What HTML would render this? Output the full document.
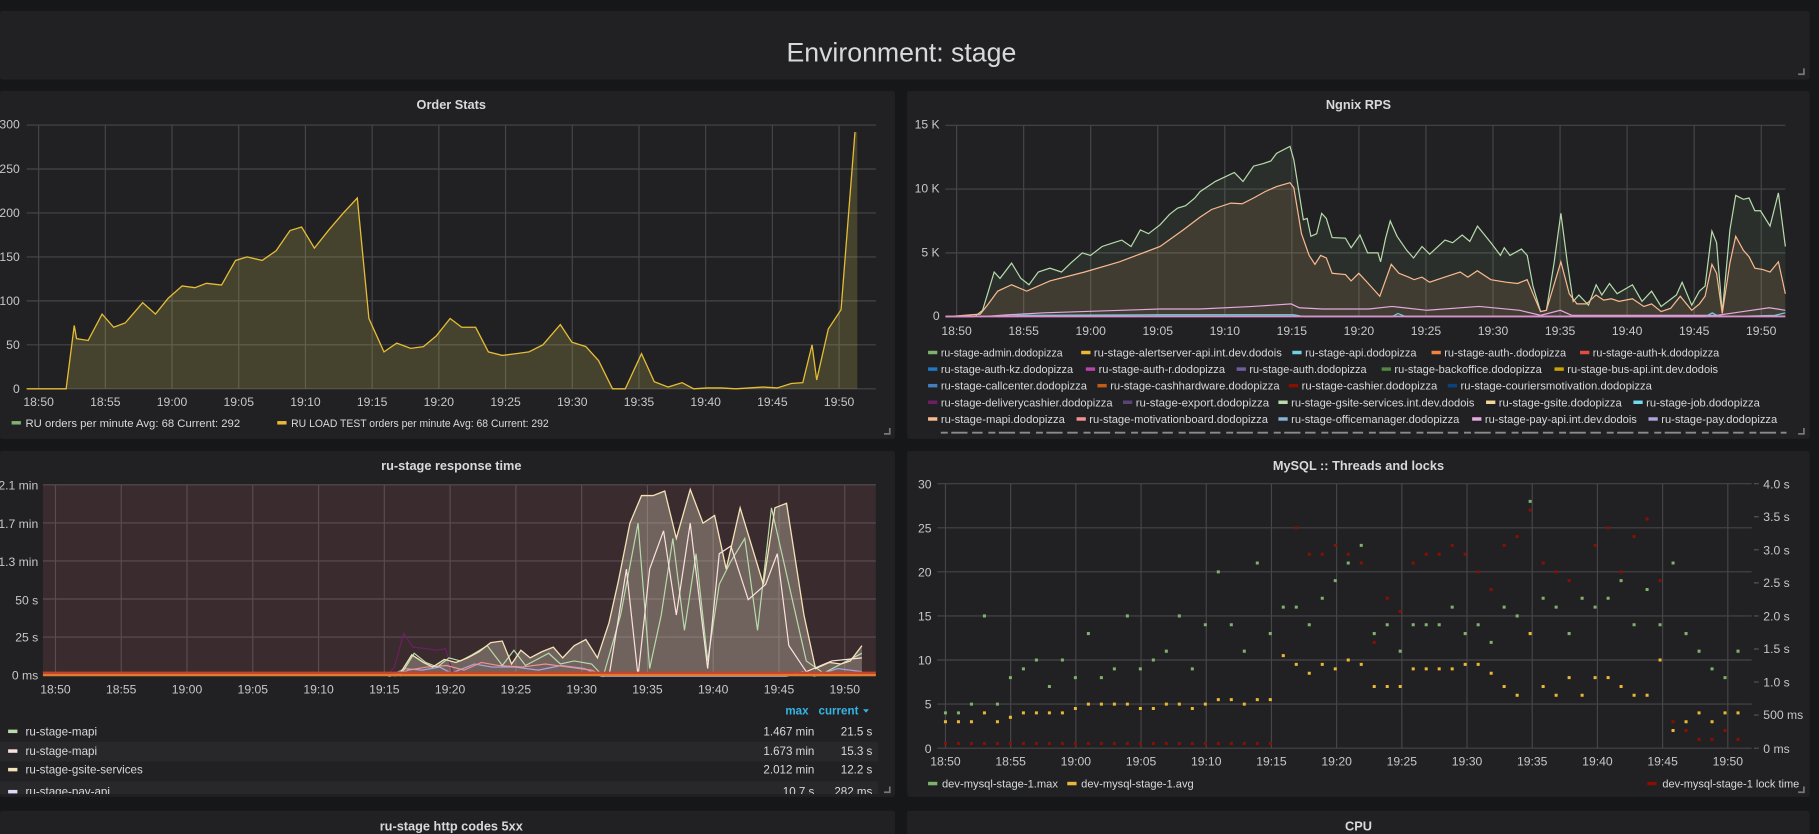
<!DOCTYPE html>
<html><head><meta charset="utf-8"><style>
html,body{margin:0;padding:0;background:#161719;overflow:hidden}
svg{display:block}
text{font-family:"Liberation Sans",sans-serif}
</style></head><body>
<svg width="1819" height="834" viewBox="0 0 1568 719" preserveAspectRatio="none" xmlns="http://www.w3.org/2000/svg">
<rect width="1568" height="719" fill="#161719"/>
<!-- title panel -->
<rect x="0" y="9.5" width="1560" height="59" fill="#212124" rx="2"/>
<text x="777" y="53" font-size="23" fill="#d8d9da" text-anchor="middle">Environment: stage</text>
<path d="M1555 59v5h-5" stroke="#777" stroke-width="1.5" fill="none"/>

<!-- panels -->
<rect x="0" y="78.4" width="771.5" height="300" fill="#212124" rx="2"/>
<rect x="782" y="78.4" width="778" height="300" fill="#212124" rx="2"/>
<rect x="0" y="388.8" width="771.5" height="298.2" fill="#212124" rx="2"/>
<rect x="782" y="388.8" width="778" height="298.2" fill="#212124" rx="2"/>
<rect x="0" y="699" width="771.5" height="30" fill="#212124" rx="2"/>
<rect x="782" y="699" width="778" height="30" fill="#212124" rx="2"/>
<g stroke="#777" stroke-width="1.5" fill="none">
<path d="M767 369v5h-5"/><path d="M1555 369v5h-5"/><path d="M767 678v5h-5"/><path d="M1555 678v5h-5"/>
</g>

<g font-size="11" fill="#d8d9da" text-anchor="middle" font-weight="bold">
<text x="389" y="94">Order Stats</text>
<text x="1171" y="94">Ngnix RPS</text>
<text x="389" y="405">ru-stage response time</text>
<text x="1171" y="405">MySQL :: Threads and locks</text>
<text x="389" y="716">ru-stage http codes 5xx</text>
<text x="1171" y="716">CPU</text>
</g>

<!-- ORDER STATS -->
<g stroke="#464648" stroke-width="1">
<path d="M23 107.8H755M23 145.7H755M23 183.6H755M23 221.5H755M23 259.4H755M23 297.3H755M23 335.2H755"/>
<path d="M33.3 107.8V335M90.8 107.8V335M148.3 107.8V335M205.8 107.8V335M263.3 107.8V335M320.8 107.8V335M378.3 107.8V335M435.8 107.8V335M493.3 107.8V335M550.8 107.8V335M608.3 107.8V335M665.8 107.8V335M723.3 107.8V335"/>
</g>
<g font-size="10.5" fill="#c7c7c7" text-anchor="end">
<text x="17" y="111">300</text><text x="17" y="149">250</text><text x="17" y="187">200</text><text x="17" y="225">150</text><text x="17" y="263">100</text><text x="17" y="301">50</text><text x="17" y="339">0</text>
</g>
<g font-size="10.5" fill="#c7c7c7" text-anchor="middle">
<text x="33.3" y="350">18:50</text><text x="90.8" y="350">18:55</text><text x="148.3" y="350">19:00</text><text x="205.8" y="350">19:05</text><text x="263.3" y="350">19:10</text><text x="320.8" y="350">19:15</text><text x="378.3" y="350">19:20</text><text x="435.8" y="350">19:25</text><text x="493.3" y="350">19:30</text><text x="550.8" y="350">19:35</text><text x="608.3" y="350">19:40</text><text x="665.8" y="350">19:45</text><text x="723.3" y="350">19:50</text>
</g>
<g transform="translate(0,335.2) scale(1,-0.758)">
<polygon fill="rgba(215,200,90,0.2)" points="23,0 57,0 64,72 66,57 76,55 88,85 98,70 108,75 123,98 134,85 145,103 157,117 168,115 178,120 191,118 203,146 213,150 226,146 238,157 250,180 260,184 271,160 283,180 296,200 308,217 318,80 331,42 342,52 354,46 365,48 376,60 388,80 398,70 410,70 421,42 433,38 445,40 456,42 468,50 483,73 493,53 505,48 516,32 528,0 539,0 553,40 564,8 576,2 588,7 598,0 610,1 622,1 634,0 646,1 658,2 670,1 682,6 692,7 700,50 704,10 714,68 725,90 737,292 739,292 739,0"/>
<polyline fill="none" stroke="#e5bd35" stroke-width="1.3" vector-effect="non-scaling-stroke" points="23,0 57,0 64,72 66,57 76,55 88,85 98,70 108,75 123,98 134,85 145,103 157,117 168,115 178,120 191,118 203,146 213,150 226,146 238,157 250,180 260,184 271,160 283,180 296,200 308,217 318,80 331,42 342,52 354,46 365,48 376,60 388,80 398,70 410,70 421,42 433,38 445,40 456,42 468,50 483,73 493,53 505,48 516,32 528,0 539,0 553,40 564,8 576,2 588,7 598,0 610,1 622,1 634,0 646,1 658,2 670,1 682,6 692,7 700,50 704,10 714,68 725,90 737,292"/>
</g>
<g font-size="9.6" fill="#d8d9da">
<rect x="10" y="363" width="8" height="3" fill="#7eb26d"/>
<text x="22" y="368" textLength="185" lengthAdjust="spacingAndGlyphs">RU orders per minute  Avg: 68  Current: 292</text>
<rect x="239" y="363" width="8" height="3" fill="#eab839"/>
<text x="251" y="368" textLength="222" lengthAdjust="spacingAndGlyphs">RU LOAD TEST orders per minute  Avg: 68  Current: 292</text>
</g>

<!-- NGINX -->
<g stroke="#464648" stroke-width="1">
<path d="M815 108H1539M815 163H1539M815 218H1539"/>
<path d="M824.6 108V273M882.4 108V273M940.2 108V273M998 108V273M1055.8 108V273M1113.6 108V273M1171.4 108V273M1229.2 108V273M1287 108V273M1344.8 108V273M1402.6 108V273M1460.4 108V273M1518.2 108V273"/>
</g>
<g font-size="10.5" fill="#c7c7c7" text-anchor="end">
<text x="810" y="111">15 K</text><text x="810" y="166">10 K</text><text x="810" y="221">5 K</text><text x="810" y="276">0</text>
</g>
<g font-size="10.5" fill="#c7c7c7" text-anchor="middle">
<text x="824.6" y="289">18:50</text><text x="882.4" y="289">18:55</text><text x="940.2" y="289">19:00</text><text x="998" y="289">19:05</text><text x="1055.8" y="289">19:10</text><text x="1113.6" y="289">19:15</text><text x="1171.4" y="289">19:20</text><text x="1229.2" y="289">19:25</text><text x="1287" y="289">19:30</text><text x="1344.8" y="289">19:35</text><text x="1402.6" y="289">19:40</text><text x="1460.4" y="289">19:45</text><text x="1518.2" y="289">19:50</text>
</g>
<g transform="translate(0,273) scale(1,-11)">
<polygon fill="rgba(126,178,109,0.1)" points="815,0 840,0 847,0.5 852,2 857,3.5 862,3 872,4.2 880,3 887,2.5 895,3.5 905,3.8 915,3.5 923,4.2 933,5 940,4.8 950,5.5 960,5.8 967,6 975,5.5 983,6.8 990,6.5 1000,7.2 1008,8 1015,8.5 1022,8.7 1030,9.3 1034.5,9.8 1047.7,10.6 1064,11.3 1071.5,10.6 1080.6,11.8 1089,12 1095.5,12.2 1100.4,12.8 1112,13.35 1115.3,12.3 1123.5,7.6 1126.8,7.7 1130,6.3 1135,6.5 1139.3,8.1 1143.3,7.7 1148.3,6.2 1159.8,6.15 1164.7,5.4 1172.3,6.4 1178.9,5 1187.8,5 1190.1,4.3 1194.4,6.15 1198.4,7.5 1204.3,6.3 1212.6,5.2 1218.5,4.6 1225.8,5.5 1232.4,4.9 1245.6,6 1252.2,5.8 1260.4,6.4 1267,5.9 1273.6,7.1 1285.1,5.8 1293.4,4.8 1296.7,5.4 1301.6,4.8 1311.5,5.3 1316.5,4.8 1321.4,2.4 1328,0.4 1333,0.5 1339.6,4.2 1345.5,8.1 1351.1,4.2 1356.1,1.2 1361,1.7 1369.3,0.9 1375.9,2.5 1380.8,1.7 1387.4,2.6 1394,1.8 1407.2,2.5 1415.4,1.2 1423.7,2 1431.9,0.8 1445.1,1.7 1450,2.7 1458.3,0.9 1464.9,2 1469.8,2.4 1475.7,6.7 1479.7,5.8 1484.6,0.3 1491.2,6.8 1496.2,9.5 1502.8,9.2 1507.7,9.3 1512.7,8.3 1517.6,8.3 1525.8,7.1 1533,9.7 1539,5.5 1539,0"/>
<polygon fill="rgba(239,160,110,0.12)" points="815,0 845,0.2 852,1 860,2 872,2.5 885,2 905,2.8 935,3.5 965,4.3 1000,5.5 1020,6.8 1034.5,7.8 1044.4,8.4 1060.9,8.9 1070.8,8.85 1080.6,9.3 1090.5,9.8 1100.4,10.2 1112,10.5 1115.3,10.1 1121.9,6.5 1128.5,4.8 1133.5,4.1 1138.4,4.8 1143.3,4.6 1148.3,3.4 1159.8,3.3 1164.7,2.8 1171.3,3.4 1179.5,2.6 1189.4,1.6 1199.3,4.1 1205.9,3.4 1214.1,3.1 1219,2.9 1225.7,3.1 1232.3,2.7 1245.5,3.1 1258.7,3.5 1265.3,3.1 1273.5,3.6 1285.1,2.9 1298.3,2.7 1308.2,2.6 1316.4,2.9 1321.4,1.8 1328,0.4 1333,0.5 1345.5,4.3 1352.7,1.8 1359.3,1 1367.5,1 1375.8,1.7 1382.4,1.3 1389,1.4 1395.6,1.2 1407.2,1.4 1417,0.8 1423.7,1 1431.9,0.4 1440.1,0.65 1448.4,1.6 1458.3,0.5 1464.9,1 1469.8,1.6 1475.7,4.1 1479.7,3.4 1484.6,0.25 1491.2,4.2 1496.2,6.3 1502.8,5.2 1507.7,4.7 1512.7,3.8 1519.3,3.7 1525.8,3.5 1533,4.3 1539,1.8 1539,0"/>
<g fill="none" stroke-width="1.2">
<polyline stroke="#b7dbab" vector-effect="non-scaling-stroke" points="815,0 840,0 847,0.5 852,2 857,3.5 862,3 872,4.2 880,3 887,2.5 895,3.5 905,3.8 915,3.5 923,4.2 933,5 940,4.8 950,5.5 960,5.8 967,6 975,5.5 983,6.8 990,6.5 1000,7.2 1008,8 1015,8.5 1022,8.7 1030,9.3 1034.5,9.8 1047.7,10.6 1064,11.3 1071.5,10.6 1080.6,11.8 1089,12 1095.5,12.2 1100.4,12.8 1112,13.35 1115.3,12.3 1123.5,7.6 1126.8,7.7 1130,6.3 1135,6.5 1139.3,8.1 1143.3,7.7 1148.3,6.2 1159.8,6.15 1164.7,5.4 1172.3,6.4 1178.9,5 1187.8,5 1190.1,4.3 1194.4,6.15 1198.4,7.5 1204.3,6.3 1212.6,5.2 1218.5,4.6 1225.8,5.5 1232.4,4.9 1245.6,6 1252.2,5.8 1260.4,6.4 1267,5.9 1273.6,7.1 1285.1,5.8 1293.4,4.8 1296.7,5.4 1301.6,4.8 1311.5,5.3 1316.5,4.8 1321.4,2.4 1328,0.4 1333,0.5 1339.6,4.2 1345.5,8.1 1351.1,4.2 1356.1,1.2 1361,1.7 1369.3,0.9 1375.9,2.5 1380.8,1.7 1387.4,2.6 1394,1.8 1407.2,2.5 1415.4,1.2 1423.7,2 1431.9,0.8 1445.1,1.7 1450,2.7 1458.3,0.9 1464.9,2 1469.8,2.4 1475.7,6.7 1479.7,5.8 1484.6,0.3 1491.2,6.8 1496.2,9.5 1502.8,9.2 1507.7,9.3 1512.7,8.3 1517.6,8.3 1525.8,7.1 1533,9.7 1539,5.5"/>
<polyline stroke="#f9ba8f" vector-effect="non-scaling-stroke" points="815,0 845,0.2 852,1 860,2 872,2.5 885,2 905,2.8 935,3.5 965,4.3 1000,5.5 1020,6.8 1034.5,7.8 1044.4,8.4 1060.9,8.9 1070.8,8.85 1080.6,9.3 1090.5,9.8 1100.4,10.2 1112,10.5 1115.3,10.1 1121.9,6.5 1128.5,4.8 1133.5,4.1 1138.4,4.8 1143.3,4.6 1148.3,3.4 1159.8,3.3 1164.7,2.8 1171.3,3.4 1179.5,2.6 1189.4,1.6 1199.3,4.1 1205.9,3.4 1214.1,3.1 1219,2.9 1225.7,3.1 1232.3,2.7 1245.5,3.1 1258.7,3.5 1265.3,3.1 1273.5,3.6 1285.1,2.9 1298.3,2.7 1308.2,2.6 1316.4,2.9 1321.4,1.8 1328,0.4 1333,0.5 1345.5,4.3 1352.7,1.8 1359.3,1 1367.5,1 1375.8,1.7 1382.4,1.3 1389,1.4 1395.6,1.2 1407.2,1.4 1417,0.8 1423.7,1 1431.9,0.4 1440.1,0.65 1448.4,1.6 1458.3,0.5 1464.9,1 1469.8,1.6 1475.7,4.1 1479.7,3.4 1484.6,0.25 1491.2,4.2 1496.2,6.3 1502.8,5.2 1507.7,4.7 1512.7,3.8 1519.3,3.7 1525.8,3.5 1533,4.3 1539,1.8"/>
<polyline stroke="#e5a8e2" vector-effect="non-scaling-stroke" points="845,0 870,0.15 900,0.3 950,0.45 1000,0.6 1034,0.6 1080,0.8 1113,1 1120,0.7 1140,0.6 1180,0.6 1200,0.8 1230,0.5 1275,0.8 1310,0.5 1328,0.1 1345,0.5 1355,0.1 1480,0.1 1495,0.3 1525,0.7 1539,0.5"/>
<polyline stroke="#6ed0e0" vector-effect="non-scaling-stroke" points="860,0 880,0.1 1000,0.15 1115,0.15 1125,0 1200,0 1205,0.25 1212,0 1470,0 1476,0.3 1482,0 1530,0.1 1539,0.3"/>
</g>
</g>
<rect x="815" y="272" width="724" height="1.6" fill="#d890c8"/>
<g font-size="9.6" fill="#d8d9da" lengthAdjust="spacingAndGlyphs">
<rect x="800" y="302.4" width="8" height="3" fill="#7eb26d"/><text x="811" y="307.4" textLength="105" lengthAdjust="spacingAndGlyphs">ru-stage-admin.dodopizza</text>
<rect x="932" y="302.4" width="8" height="3" fill="#eab839"/><text x="943" y="307.4" textLength="162" lengthAdjust="spacingAndGlyphs">ru-stage-alertserver-api.int.dev.dodois</text>
<rect x="1114" y="302.4" width="8" height="3" fill="#6ed0e0"/><text x="1125" y="307.4" textLength="96" lengthAdjust="spacingAndGlyphs">ru-stage-api.dodopizza</text>
<rect x="1234" y="302.4" width="8" height="3" fill="#ef843c"/><text x="1245" y="307.4" textLength="105" lengthAdjust="spacingAndGlyphs">ru-stage-auth-.dodopizza</text>
<rect x="1362" y="302.4" width="8" height="3" fill="#e24d42"/><text x="1373" y="307.4" textLength="109" lengthAdjust="spacingAndGlyphs">ru-stage-auth-k.dodopizza</text>

<rect x="800" y="316.7" width="8" height="3" fill="#1f78c1"/><text x="811" y="321.7" textLength="114" lengthAdjust="spacingAndGlyphs">ru-stage-auth-kz.dodopizza</text>
<rect x="936" y="316.7" width="8" height="3" fill="#ba43a9"/><text x="947" y="321.7" textLength="109" lengthAdjust="spacingAndGlyphs">ru-stage-auth-r.dodopizza</text>
<rect x="1066" y="316.7" width="8" height="3" fill="#705da0"/><text x="1077" y="321.7" textLength="101" lengthAdjust="spacingAndGlyphs">ru-stage-auth.dodopizza</text>
<rect x="1191" y="316.7" width="8" height="3" fill="#508642"/><text x="1202" y="321.7" textLength="127" lengthAdjust="spacingAndGlyphs">ru-stage-backoffice.dodopizza</text>
<rect x="1340" y="316.7" width="8" height="3" fill="#cca300"/><text x="1351" y="321.7" textLength="130" lengthAdjust="spacingAndGlyphs">ru-stage-bus-api.int.dev.dodois</text>

<rect x="800" y="331" width="8" height="3" fill="#447ebc"/><text x="811" y="336" textLength="126" lengthAdjust="spacingAndGlyphs">ru-stage-callcenter.dodopizza</text>
<rect x="946" y="331" width="8" height="3" fill="#c15c17"/><text x="957" y="336" textLength="146" lengthAdjust="spacingAndGlyphs">ru-stage-cashhardware.dodopizza</text>
<rect x="1111" y="331" width="8" height="3" fill="#890f02"/><text x="1122" y="336" textLength="117" lengthAdjust="spacingAndGlyphs">ru-stage-cashier.dodopizza</text>
<rect x="1248" y="331" width="8" height="3" fill="#0a437c"/><text x="1259" y="336" textLength="165" lengthAdjust="spacingAndGlyphs">ru-stage-couriersmotivation.dodopizza</text>

<rect x="800" y="345.3" width="8" height="3" fill="#6d1f62"/><text x="811" y="350.3" textLength="148" lengthAdjust="spacingAndGlyphs">ru-stage-deliverycashier.dodopizza</text>
<rect x="968" y="345.3" width="8" height="3" fill="#584477"/><text x="979" y="350.3" textLength="115" lengthAdjust="spacingAndGlyphs">ru-stage-export.dodopizza</text>
<rect x="1102" y="345.3" width="8" height="3" fill="#b7dbab"/><text x="1113" y="350.3" textLength="158" lengthAdjust="spacingAndGlyphs">ru-stage-gsite-services.int.dev.dodois</text>
<rect x="1281" y="345.3" width="8" height="3" fill="#f4d598"/><text x="1292" y="350.3" textLength="106" lengthAdjust="spacingAndGlyphs">ru-stage-gsite.dodopizza</text>
<rect x="1408" y="345.3" width="8" height="3" fill="#70dbed"/><text x="1419" y="350.3" textLength="98" lengthAdjust="spacingAndGlyphs">ru-stage-job.dodopizza</text>

<rect x="800" y="359.7" width="8" height="3" fill="#f9ba8f"/><text x="811" y="364.7" textLength="107" lengthAdjust="spacingAndGlyphs">ru-stage-mapi.dodopizza</text>
<rect x="928" y="359.7" width="8" height="3" fill="#f29191"/><text x="939" y="364.7" textLength="154" lengthAdjust="spacingAndGlyphs">ru-stage-motivationboard.dodopizza</text>
<rect x="1102" y="359.7" width="8" height="3" fill="#82b5d8"/><text x="1113" y="364.7" textLength="145" lengthAdjust="spacingAndGlyphs">ru-stage-officemanager.dodopizza</text>
<rect x="1269" y="359.7" width="8" height="3" fill="#e5a8e2"/><text x="1280" y="364.7" textLength="131" lengthAdjust="spacingAndGlyphs">ru-stage-pay-api.int.dev.dodois</text>
<rect x="1421" y="359.7" width="8" height="3" fill="#aea2e0"/><text x="1432" y="364.7" textLength="100" lengthAdjust="spacingAndGlyphs">ru-stage-pay.dodopizza</text>
</g>
<path d="M811 373H1540" stroke="#8a8a8a" stroke-width="1.6" stroke-dasharray="6 3 14 4 9 5"/>

<!-- RESPONSE TIME -->
<rect x="37" y="418" width="718" height="165" fill="#3a2b2f"/>
<g stroke="#5a4c50" stroke-width="1">
<path d="M37 418H755M37 450.8H755M37 483.6H755M37 516.4H755M37 549.2H755"/>
<path d="M47.8 418V583M104.5 418V583M161.2 418V583M217.9 418V583M274.6 418V583M331.3 418V583M388 418V583M444.7 418V583M501.4 418V583M558.1 418V583M614.8 418V583M671.5 418V583M728.2 418V583"/>
</g>
<g font-size="10.5" fill="#c7c7c7" text-anchor="end">
<text x="33" y="422">2.1 min</text><text x="33" y="455">1.7 min</text><text x="33" y="488">1.3 min</text><text x="33" y="521">50 s</text><text x="33" y="553">25 s</text><text x="33" y="586">0 ms</text>
</g>
<g font-size="10.5" fill="#c7c7c7" text-anchor="middle">
<text x="47.8" y="598">18:50</text><text x="104.5" y="598">18:55</text><text x="161.2" y="598">19:00</text><text x="217.9" y="598">19:05</text><text x="274.6" y="598">19:10</text><text x="331.3" y="598">19:15</text><text x="388" y="598">19:20</text><text x="444.7" y="598">19:25</text><text x="501.4" y="598">19:30</text><text x="558.1" y="598">19:35</text><text x="614.8" y="598">19:40</text><text x="671.5" y="598">19:45</text><text x="728.2" y="598">19:50</text>
</g>
<g transform="translate(0,583) scale(1,-1.32)">
<polygon fill="rgba(240,225,200,0.3)" points="335,0 345,2 355,14 365,9 373,6 383,11 393,9 403,12 413,16 423,22 433,23 441,8 449,17 457,12 467,16 477,19 485,12 495,20 505,24 515,12 525,35 533,62 543,100 553,118 563,118 573,121 583,90 595,122 606,100 616,105 626,70 638,110 648,85 658,60 668,110 678,113 693,40 703,5 715,9 725,8 733,10 743,20 743,0"/>
<g fill="none">
<polyline stroke="#6d1f62" stroke-width="1.2" vector-effect="non-scaling-stroke" points="333,0 340,6 348,28 356,19 368,18 376,17 384,18 390,3 396,0"/>
<polyline stroke="#aea2e0" stroke-width="1.2" vector-effect="non-scaling-stroke" points="335,0 349,5 364,4 379,6 389,2 399,5 409,8 424,6 444,6 464,4 484,7 504,5 518,0 678,0 692,3 702,0 722,5 743,3"/>
<polyline stroke="#f29191" stroke-width="1.2" vector-effect="non-scaling-stroke" points="340,0 352,4 368,6 385,7 400,4 415,9 430,7 450,6 470,8 490,6 510,4 520,0"/>
<polyline stroke="#b7dbab" stroke-width="1.2" vector-effect="non-scaling-stroke" points="345,0 357,15 367,9 377,6 387,12 397,10 407,14 420,20 433,7 443,17 453,7 463,11 473,15 483,8 495,10 510,8 520,0 535,40 550,100 560,5 570,40 580,90 590,30 600,80 610,10 620,60 630,75 642,90 653,30 665,110 680,60 695,10 710,2 730,10 743,15"/>
<polyline stroke="#fce2de" stroke-width="1.2" vector-effect="non-scaling-stroke" points="525,0 540,70 550,0 560,70 572,95 583,40 595,100 610,5 620,80 630,85 645,50 660,60 670,80 680,20 695,3 717,10 743,12"/>
<polyline stroke="#f4e3b8" stroke-width="1.3" vector-effect="non-scaling-stroke" points="335,0 345,2 355,14 365,9 373,6 383,11 393,9 403,12 413,16 423,22 433,23 441,8 449,17 457,12 467,16 477,19 485,12 495,20 505,24 515,12 525,35 533,62 543,100 553,118 563,118 573,121 583,90 595,122 606,100 616,105 626,70 638,110 648,85 658,60 668,110 678,113 693,40 703,5 715,9 725,8 733,10 743,20"/>
</g>
</g>
<rect x="37" y="579" width="718" height="2" fill="#c4452a"/>
<rect x="37" y="581" width="718" height="2" fill="#e07b34"/>
<!-- table -->
<g font-size="10" font-weight="bold" fill="#33b5e5" text-anchor="end">
<text x="697" y="616">max</text><text x="740" y="616">current</text>
</g>
<path d="M744 611.5h5l-2.5 3z" fill="#33b5e5"/>
<rect x="0" y="639.5" width="757" height="17" fill="#28282b"/>
<rect x="0" y="673.5" width="757" height="11" fill="#28282b"/>
<g font-size="10" fill="#d8d9da">
<rect x="7" y="629" width="8" height="3" fill="#b7dbab"/><text x="22" y="634">ru-stage-mapi</text>
<text x="702" y="634" text-anchor="end">1.467 min</text><text x="752" y="634" text-anchor="end">21.5 s</text>
<rect x="7" y="646" width="8" height="3" fill="#fce2de"/><text x="22" y="651">ru-stage-mapi</text>
<text x="702" y="651" text-anchor="end">1.673 min</text><text x="752" y="651" text-anchor="end">15.3 s</text>
<rect x="7" y="662" width="8" height="3" fill="#f4e3b8"/><text x="22" y="667">ru-stage-gsite-services</text>
<text x="702" y="667" text-anchor="end">2.012 min</text><text x="752" y="667" text-anchor="end">12.2 s</text>
</g>
<svg x="0" y="672" width="760" height="12.5" viewBox="0 672 760 12.5" overflow="hidden">
<g font-size="10" fill="#d8d9da">
<rect x="7" y="681" width="8" height="3" fill="#dedaf7"/><text x="22" y="686">ru-stage-pay-api</text>
<text x="702" y="686" text-anchor="end">10.7 s</text><text x="752" y="686" text-anchor="end">282 ms</text>
</g>
</svg>

<!-- MYSQL -->
<g stroke="#464648" stroke-width="1">
<path d="M808 417H1510M808 455H1510M808 493H1510M808 531H1510M808 569H1510M808 607H1510M808 645H1510"/>
<path d="M815 417V645M871.2 417V645M927.4 417V645M983.6 417V645M1039.8 417V645M1096 417V645M1152.2 417V645M1208.4 417V645M1264.6 417V645M1320.8 417V645M1377 417V645M1433.2 417V645M1489.4 417V645"/>
</g>
<g font-size="10.5" fill="#c7c7c7" text-anchor="end">
<text x="803" y="421">30</text><text x="803" y="459">25</text><text x="803" y="497">20</text><text x="803" y="535">15</text><text x="803" y="573">10</text><text x="803" y="611">5</text><text x="803" y="649">0</text>
</g>
<g font-size="10.5" fill="#c7c7c7">
<text x="1520" y="421">4.0 s</text><text x="1520" y="449">3.5 s</text><text x="1520" y="478">3.0 s</text><text x="1520" y="506">2.5 s</text><text x="1520" y="535">2.0 s</text><text x="1520" y="563">1.5 s</text><text x="1520" y="592">1.0 s</text><text x="1520" y="620">500 ms</text><text x="1520" y="649">0 ms</text>
</g>
<g stroke="#555" stroke-width="1"><path d="M1512 417h4M1512 445.5h4M1512 474h4M1512 502.5h4M1512 531h4M1512 559.5h4M1512 588h4M1512 616.5h4M1512 645h4"/></g>
<g font-size="10.5" fill="#c7c7c7" text-anchor="middle">
<text x="815" y="660">18:50</text><text x="871.2" y="660">18:55</text><text x="927.4" y="660">19:00</text><text x="983.6" y="660">19:05</text><text x="1039.8" y="660">19:10</text><text x="1096" y="660">19:15</text><text x="1152.2" y="660">19:20</text><text x="1208.4" y="660">19:25</text><text x="1264.6" y="660">19:30</text><text x="1320.8" y="660">19:35</text><text x="1377" y="660">19:40</text><text x="1433.2" y="660">19:45</text><text x="1489.4" y="660">19:50</text>
</g>
<g transform="translate(-3,0)" fill="none" stroke-width="2.6" stroke-linecap="square">
<path stroke="#890f02" d="M818 641h0M829.2 641h0M840.4 641h0M851.6 641h0M862.8 641h0M874 641h0M885.2 641h0M896.4 641h0M907.6 641h0M918.8 641h0M930 641h0M941.2 641h0M952.4 641h0M963.6 641h0M974.8 641h0M986 641h0M997.2 641h0M1008.4 641h0M1019.6 641h0M1030.8 641h0M1042 641h0M1053.2 641h0M1064.4 641h0M1075.6 641h0M1086.8 641h0M1098 641h0M1109.2 565.2h0M1120.4 455h0M1131.6 477.8h0M1142.8 477.8h0M1154 470.2h0M1165.2 477.8h0M1176.4 485.4h0M1187.6 553.8h0M1198.8 515.8h0M1210 527.2h0M1221.2 485.4h0M1232.4 477.8h0M1243.6 477.8h0M1254.8 470.2h0M1266 477.8h0M1277.2 493h0M1288.4 508.2h0M1299.6 470.2h0M1310.8 462.6h0M1322 439.8h0M1333.2 485.4h0M1344.4 493h0M1355.6 500.6h0M1366.8 515.8h0M1378 470.2h0M1389.2 455h0M1400.4 493h0M1411.6 462.6h0M1422.8 447.4h0M1434 500.6h0M1445.2 622.2h0M1456.4 629.8h0M1467.6 637.4h0M1478.8 637.4h0M1490 629.8h0M1501.2 637.4h0"/>
<path stroke="#7eb26d" d="M818 614.6h0M829.2 614.6h0M840.4 607h0M851.6 531h0M862.8 607h0M874 584.2h0M885.2 576.6h0M896.4 569h0M907.6 591.8h0M918.8 569h0M930 584.2h0M941.2 546.2h0M952.4 584.2h0M963.6 576.6h0M974.8 531h0M986 576.6h0M997.2 569h0M1008.4 561.4h0M1019.6 531h0M1030.8 576.6h0M1042 538.6h0M1053.2 493h0M1064.4 538.6h0M1075.6 561.4h0M1086.8 485.4h0M1098 546.2h0M1109.2 523.4h0M1120.4 523.4h0M1131.6 538.6h0M1142.8 515.8h0M1154 500.6h0M1165.2 485.4h0M1176.4 470.2h0M1187.6 546.2h0M1198.8 538.6h0M1210 561.4h0M1221.2 538.6h0M1232.4 538.6h0M1243.6 538.6h0M1254.8 523.4h0M1266 546.2h0M1277.2 538.6h0M1288.4 553.8h0M1299.6 523.4h0M1310.8 531h0M1322 432.2h0M1333.2 515.8h0M1344.4 523.4h0M1355.6 546.2h0M1366.8 515.8h0M1378 523.4h0M1389.2 515.8h0M1400.4 500.6h0M1411.6 538.6h0M1422.8 508.2h0M1434 538.6h0M1445.2 485.4h0M1456.4 546.2h0M1467.6 561.4h0M1478.8 576.6h0M1490 584.2h0M1501.2 561.4h0"/>
<path stroke="#eab839" d="M818 622.2h0M829.2 622.2h0M840.4 622.2h0M851.6 614.6h0M862.8 622.2h0M874 618.4h0M885.2 614.6h0M896.4 614.6h0M907.6 614.6h0M918.8 614.6h0M930 610.8h0M941.2 607h0M952.4 607h0M963.6 607h0M974.8 607h0M986 610.8h0M997.2 610.8h0M1008.4 607h0M1019.6 607h0M1030.8 610.8h0M1042 607h0M1053.2 603.2h0M1064.4 603.2h0M1075.6 607h0M1086.8 603.2h0M1098 603.2h0M1109.2 565.2h0M1120.4 572.8h0M1131.6 580.4h0M1142.8 572.8h0M1154 576.6h0M1165.2 569h0M1176.4 572.8h0M1187.6 591.8h0M1198.8 591.8h0M1210 591.8h0M1221.2 576.6h0M1232.4 576.6h0M1243.6 576.6h0M1254.8 576.6h0M1266 572.8h0M1277.2 572.8h0M1288.4 580.4h0M1299.6 591.8h0M1310.8 599.4h0M1322 546.2h0M1333.2 591.8h0M1344.4 599.4h0M1355.6 584.2h0M1366.8 599.4h0M1378 584.2h0M1389.2 584.2h0M1400.4 591.8h0M1411.6 599.4h0M1422.8 599.4h0M1434 569h0M1445.2 629.8h0M1456.4 622.2h0M1467.6 614.6h0M1478.8 622.2h0M1490 614.6h0M1501.2 614.6h0"/>
</g>
<g font-size="9.6" fill="#d8d9da">
<rect x="800" y="674" width="8" height="3" fill="#7eb26d"/><text x="812" y="679" textLength="100" lengthAdjust="spacingAndGlyphs">dev-mysql-stage-1.max</text>
<rect x="920" y="674" width="8" height="3" fill="#eab839"/><text x="932" y="679" textLength="97" lengthAdjust="spacingAndGlyphs">dev-mysql-stage-1.avg</text>
<rect x="1420" y="674" width="8" height="3" fill="#890f02"/><text x="1433" y="679" textLength="118" lengthAdjust="spacingAndGlyphs">dev-mysql-stage-1 lock time</text>
</g>
</svg>
</body></html>
